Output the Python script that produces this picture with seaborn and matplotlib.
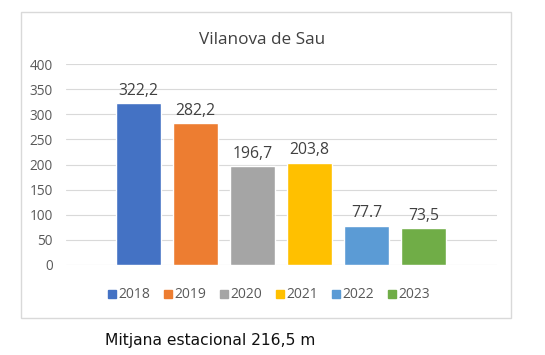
import matplotlib
matplotlib.use("Agg")
import matplotlib.pyplot as plt
import seaborn as sns
import pandas as pd
from matplotlib.patches import Rectangle
from matplotlib.lines import Line2D

years = ["2018", "2019", "2020", "2021", "2022", "2023"]
values = [322.2, 282.2, 196.7, 203.8, 77.7, 73.5]
labels = ["322,2", "282,2", "196,7", "203,8", "77.7", "73,5"]
colors = ["#4472C4", "#ED7D31", "#A5A5A5", "#FFC000", "#5B9BD5", "#70AD47"]
yticks = [0, 50, 100, 150, 200, 250, 300, 350, 400]
title = "Vilanova de Sau"
caption = "Mitjana estacional 216,5 m"

sns.set_theme(style="white")
plt.rcParams['font.family'] = ['Open Sans', 'DejaVu Sans']

W, H = 545, 355
fig = plt.figure(figsize=(W/100, H/100), dpi=100)
fig.patch.set_facecolor("white")

# chart frame
fig.add_artist(Rectangle((21/W, 1-318/H), (511-21)/W, (318-12)/H, transform=fig.transFigure,
                         facecolor="none", edgecolor="#D9D9D9", linewidth=1.0, zorder=-5))

ax = fig.add_axes([66/W, 1-265/H, (497-66)/W, (265-64)/H])
df = pd.DataFrame({"year": years, "value": values})
sns.barplot(data=df, x="year", y="value", hue="year", palette=colors, dodge=False,
            width=0.79, legend=False, ax=ax, saturation=1)
ax.set_xlim(-1.27, 6.29)
ax.set_ylim(0, 400)
ax.set_yticks(yticks)
ax.set_yticklabels([str(t) for t in yticks], color="#595959", fontsize=9.8)
ax.set_xticks([])
ax.set_xlabel("")
ax.set_ylabel("")
ax.tick_params(axis="y", length=0, pad=9.5)
for s in ax.spines.values():
    s.set_visible(False)
ax.set_axisbelow(True)
ax.yaxis.grid(True, color="#D9D9D9", linewidth=0.8)
ax.patch.set_alpha(0)

for i, (v, lab) in enumerate(zip(values, labels)):
    ax.text(i, v + 9, lab, ha="center", va="bottom", fontsize=11.3, color="#404040")

fig.text(262/W, 1-40/H, title, ha="center", va="center", fontsize=12.3, color="#404040")

handles = [Line2D([], [], marker="s", linestyle="", markersize=6, color=c) for c in colors]
fig.legend(handles, years, loc="center", bbox_to_anchor=(268/W, 1-295/H), ncol=6,
           frameon=False, fontsize=10, handletextpad=0.05, columnspacing=0.9,
           handlelength=0.8, labelcolor="#595959")

fig.text(105/W, 1-340/H, caption, ha="left", va="center", fontsize=11.2, color="#111111",
         family=["DejaVu Sans"])

fig.savefig("out.png", dpi=100)
